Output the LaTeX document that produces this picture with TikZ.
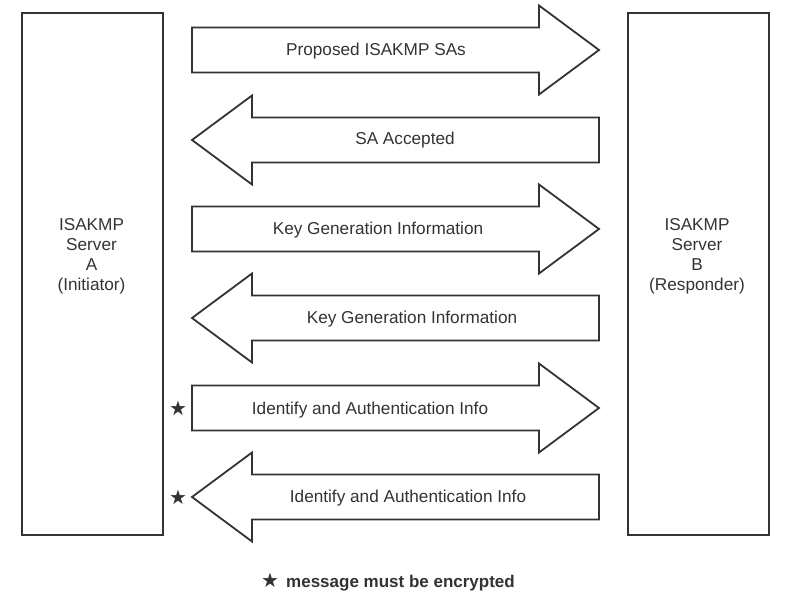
\documentclass[tikz,border=0pt]{standalone}
\usepackage{fontspec}
\setmainfont{Liberation Sans}
\newfontfamily\symfont{DejaVu Sans}
\definecolor{ink}{HTML}{333333}
\begin{document}
\begin{tikzpicture}[x=1pt,y=-1pt,
  outline/.style={draw=ink,line width=1.8pt,line join=miter},
  lbl/.style={text=ink,font=\fontsize{17.2}{18}\selectfont,inner sep=0pt},
  server/.style={outline,minimum width=141pt,minimum height=522pt},
  servertext/.style={align=center,text=ink,font=\fontsize{17.2}{20}\selectfont,inner sep=0pt},
  rarrow/.pic={\draw[outline] (192,-22.5) -- (539,-22.5) -- (539,-44.5) -- (599,0) -- (539,44.5) -- (539,22.5) -- (192,22.5) -- cycle;},
  larrow/.pic={\draw[outline] (599,-22.5) -- (252,-22.5) -- (252,-44.5) -- (192,0) -- (252,44.5) -- (252,22.5) -- (599,22.5) -- cycle;},
  star/.style={text=ink,font=\symfont\fontsize{20}{20}\selectfont,inner sep=0pt}]
\useasboundingbox (0,0) rectangle (787,596);
\node[server] (A) at (92.5,274) {};
\node[server] (B) at (698.5,274) {};
\node[servertext] (Atext) at (91.5,256) {ISAKMP\\Server\\A\\(Initiator)};
\node[servertext] (Btext) at (697,256) {ISAKMP\\Server\\B\\(Responder)};
\pic at (0,50) {rarrow};
\pic at (0,140) {larrow};
\pic at (0,229) {rarrow};
\pic at (0,318) {larrow};
\pic at (0,408) {rarrow};
\pic at (0,497) {larrow};
\node[lbl] (m1) at (376,51.5) {Proposed ISAKMP SAs};
\node[lbl] (m2) at (405,140.5) {SA Accepted};
\node[lbl] (m3) at (378,230.5) {Key Generation Information};
\node[lbl] (m4) at (412,319.5) {Key Generation Information};
\node[lbl] (m5) at (370,410) {Identify and Authentication Info};
\node[lbl] (m6) at (408,498.5) {Identify and Authentication Info};
\node[star] (s5) at (178,408) {★};
\node[star] (s6) at (178,497) {★};
\node[star,anchor=base] (sf) at (270,587) {★};
\node[lbl,anchor=base west,font=\bfseries\fontsize{17}{18}\selectfont] (foot) at (286,587) {message must be encrypted};
\end{tikzpicture}
\end{document}
